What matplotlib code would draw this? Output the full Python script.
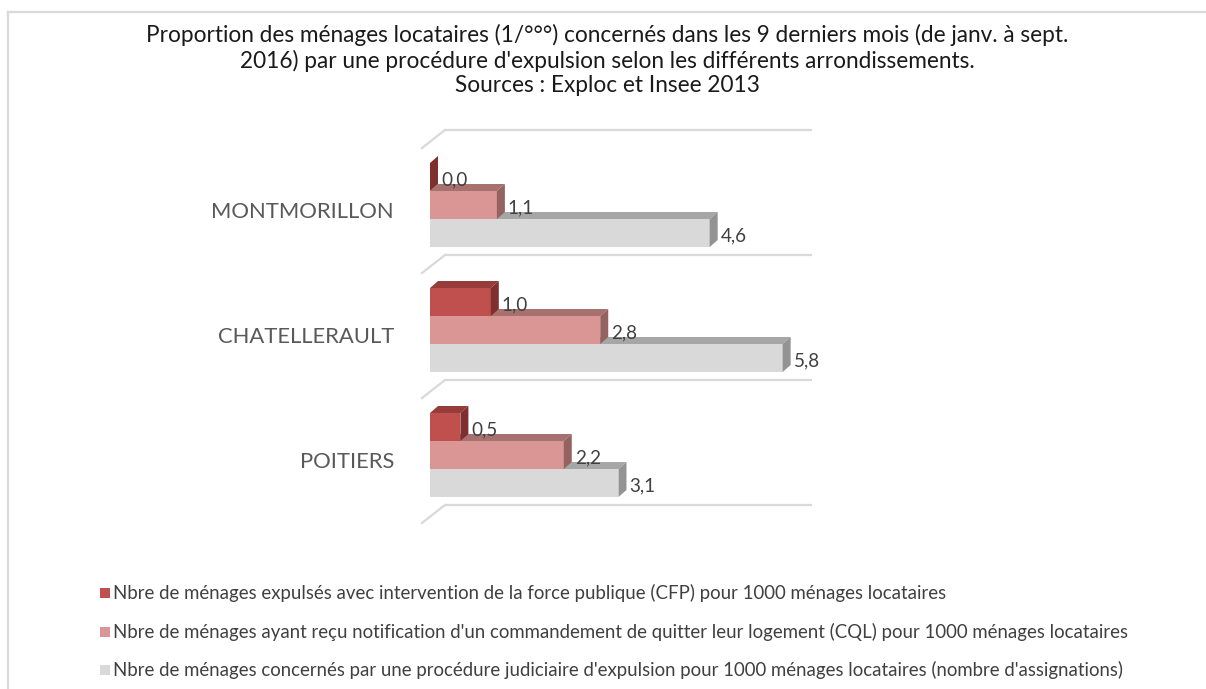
import matplotlib
matplotlib.use("Agg")
import matplotlib.pyplot as plt
from matplotlib.patches import Polygon, Rectangle
from matplotlib.lines import Line2D

# ---------------- data ----------------
categories = ["MONTMORILLON", "CHATELLERAULT", "POITIERS"]
series_names = [
    "Nbre de ménages expulsés avec intervention de la force publique (CFP) pour 1000 ménages locataires",
    "Nbre de ménages ayant reçu notification d'un commandement de quitter leur logement (CQL) pour 1000 ménages locataires",
    "Nbre de ménages concernés par une procédure judiciaire d'expulsion pour 1000 ménages locataires (nombre d'assignations)",
]
cfp = [0.0, 1.0, 0.5]
cql = [1.1, 2.8, 2.2]
assignations = [4.6, 5.8, 3.1]
title_lines = [
    "Proportion des ménages locataires (1/°°°) concernés dans les 9 derniers mois (de janv. à sept.",
    "2016) par une procédure d'expulsion selon les différents arrondissements.",
    "Sources : Exploc et Insee 2013",
]

# ---------------- style ----------------
FONT = "Lato"
W, H = 1206, 689
fig = plt.figure(figsize=(W / 100, H / 100), dpi=100)
fig.patch.set_facecolor("white")

def fx(px):
    return px / W

def fy(py):
    return 1 - py / H

# plot area in pixels
AX_L, AX_R, AX_T, AX_B = 430, 812, 115, 520
PX_PER_UNIT = 60.8
PX_PER_CAT = 125.0
CAT0_PX = 205.0
ax = fig.add_axes([fx(AX_L), fy(AX_B), fx(AX_R - AX_L), (AX_B - AX_T) / H])
ax.set_xlim(0, (AX_R - AX_L) / PX_PER_UNIT)
ax.set_ylim((AX_B - CAT0_PX) / PX_PER_CAT, (AX_T - CAT0_PX) / PX_PER_CAT)
ax.axis("off")

dx = 8 / PX_PER_UNIT          # depth in data x units
dy = -7 / PX_PER_CAT          # depth in data y units (up)
bar_h = 28 / PX_PER_CAT

series = [
    (assignations, +bar_h, "#D9D9D9", "#A6A6A6", "#939393"),
    (cql, 0.0, "#D99694", "#A6716F", "#946260"),
    (cfp, -bar_h, "#C0504D", "#963C3A", "#7F2F2D"),
]

# floor / grid lines
grid_c = "#D9D9D9"
for i in range(len(categories) + 1):
    yb = i - 0.6 if i < len(categories) else len(categories) - 0.6
    x0 = 15 / PX_PER_UNIT
    ax.plot([x0, ax.get_xlim()[1]], [yb, yb], color=grid_c, lw=1.6, zorder=1, clip_on=False,
            solid_capstyle="butt")
    ax.plot([x0, -8 / PX_PER_UNIT], [yb, yb + 18 / PX_PER_CAT], color=grid_c, lw=1.6,
            zorder=1, clip_on=False)

positions = list(range(len(categories)))
value_texts = []
z = 2
for vals, off, c_front, c_top, c_side in series:
    ys = [p + off for p in positions]
    ax.barh(ys, vals, height=bar_h, left=0, color=c_front, zorder=z + 0.5, linewidth=0)
    for y, v in zip(ys, vals):
        ytop = y - bar_h / 2
        ybot = y + bar_h / 2
        top = Polygon([(0, ytop), (v, ytop), (v + dx, ytop + dy), (dx, ytop + dy)],
                      closed=True, facecolor=c_top, edgecolor="none", zorder=z)
        side = Polygon([(v, ybot), (v, ytop), (v + dx, ytop + dy), (v + dx, ybot + dy)],
                       closed=True, facecolor=c_side, edgecolor="none", zorder=z + 0.6)
        ax.add_patch(top)
        ax.add_patch(side)
        t = ax.text(v + dx + 3 / PX_PER_UNIT, y + 3 / PX_PER_CAT, f"{v:.1f}".replace(".", ","),
                    ha="left", va="center", fontsize=12, color="#404040", family=FONT,
                    zorder=10)
        value_texts.append(t)
    z += 1

# category labels
ytr = ax.get_yaxis_transform()
cat_texts = []
for p, c in zip(positions, categories):
    t = ax.text((394 - AX_L) / (AX_R - AX_L), p + 7 / PX_PER_CAT, c, transform=ytr,
                ha="right", va="center", fontsize=14, color="#595959", family=FONT)
    cat_texts.append(t)

# title
title_texts = []
for i, line in enumerate(title_lines):
    t = fig.text(fx(607), fy(35 + 25.5 * i), line, ha="center", va="center",
                 fontsize=12, color="#1A1A1A", family=FONT)
    title_texts.append(t)

# legend (manual)
leg_colors = ["#C0504D", "#D99694", "#D9D9D9"]
leg_y = [593, 632, 670]
leg_texts = []
for name, c, y in zip(series_names, leg_colors, leg_y):
    fig.add_artist(Rectangle((fx(100), fy(y + 5)), fx(10), 10 / H, transform=fig.transFigure,
                             facecolor=c, edgecolor="none"))
    t = fig.text(fx(113), fy(y), name, ha="left", va="center", fontsize=10,
                 color="#404040", family=FONT)
    leg_texts.append(t)

# border
fig.add_artist(Line2D([fx(8), 1], [fy(12), fy(12)], color="#D9D9D9", lw=1.6,
                      transform=fig.transFigure))
fig.add_artist(Line2D([fx(8), fx(8)], [fy(12), 0], color="#D9D9D9", lw=1.6,
                      transform=fig.transFigure))

# fit font sizes to target widths
renderer = fig.canvas.get_renderer()

def fit(t, target):
    w = t.get_window_extent(renderer).width
    return t.get_fontsize() * target / w

s_title = fit(title_texts[0], 920)
for t in title_texts:
    t.set_fontsize(s_title)
s_cat = fit(cat_texts[0], 182)
for t in cat_texts:
    t.set_fontsize(s_cat)
s_leg = fit(leg_texts[2], 1128 - 113)
for t in leg_texts:
    t.set_fontsize(s_leg)
s_val = fit(value_texts[0], 26)
for t in value_texts:
    t.set_fontsize(s_val)

fig.savefig("out.png", dpi=100, facecolor="white")
